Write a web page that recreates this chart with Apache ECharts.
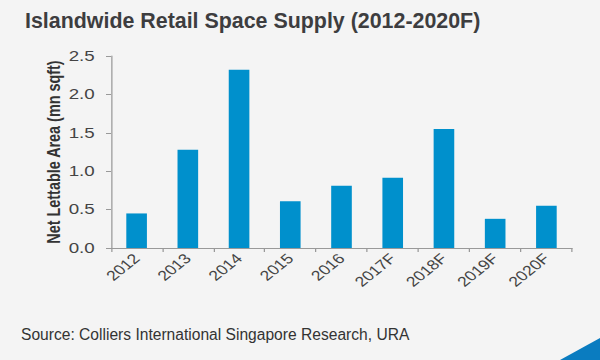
<!DOCTYPE html>
<html><head><meta charset="utf-8">
<script src="https://cdn.jsdelivr.net/npm/echarts@6/dist/echarts.min.js"></script>
<style>
html,body{margin:0;padding:0;background:#f4f4f4}
#wrap{position:relative;width:600px;height:360px;overflow:hidden}
#bg{position:absolute;left:0;top:0;width:600px;height:360px}
#c{position:absolute;left:0;top:0;width:480px;height:360px;transform:scaleX(1.25);transform-origin:0 0}
</style>
</head><body><div id="wrap"><div id="bg"></div><div id="c"></div></div>
<script>
var categories = ['2012','2013','2014','2015','2016','2017F','2018F','2019F','2020F'];
var supply = [0.45, 1.28, 2.32, 0.61, 0.81, 0.915, 1.55, 0.38, 0.55];
var yTicks = {min: 0, max: 2.5, interval: 0.5};

var FONT = 'Liberation Sans, Arial, sans-serif';

var bg = echarts.init(document.getElementById('bg'), null, {renderer: 'svg'});
bg.setOption({
  backgroundColor: '#f4f4f4',
  animation: false,
  title: {
    text: 'Islandwide Retail Space Supply (2012-2020F)',
    left: 20, top: 5,
    textStyle: {fontSize: 21.4, fontWeight: 'bold', color: '#3d3d3f', fontFamily: FONT}
  },
  graphic: [
    {type: 'text', left: 21, top: 326, style: {text: 'Source: Colliers International Singapore Research, URA', fontSize: 15.6, fill: '#333', fontFamily: FONT}},
    {type: 'polygon', shape: {points: [[560,360],[600,338],[600,360]]}, style: {fill: '#0a7cc0'}}
  ]
});

var chart = echarts.init(document.getElementById('c'), null, {renderer: 'svg'});
chart.setOption({
  backgroundColor: 'transparent',
  animation: false,
  textStyle: {fontFamily: FONT},
  grid: {left: 88.8, right: 22.4, top: 56, bottom: 112},
  xAxis: {
    type: 'category',
    data: categories,
    axisLine: {lineStyle: {color: '#999'}},
    axisTick: {show: true, length: 4, lineStyle: {color: '#999'}},
    axisLabel: {rotate: 45, fontSize: 14, color: '#444', margin: 8, fontFamily: FONT}
  },
  yAxis: {
    type: 'value',
    min: yTicks.min, max: yTicks.max, interval: yTicks.interval,
    name: 'Net Lettable Area (mn sqft)',
    nameLocation: 'middle', nameGap: 39, nameRotate: 90,
    nameMoveOverlap: false,
    nameTextStyle: {fontSize: 14.4, fontWeight: 'bold', color: '#333', fontFamily: FONT},
    axisLine: {show: true, lineStyle: {color: '#999'}},
    axisTick: {show: true, length: 4, lineStyle: {color: '#999'}},
    splitLine: {show: false},
    axisLabel: {fontSize: 15, color: '#444', margin: 13, fontFamily: FONT, formatter: function(v){return v.toFixed(1);}}
  },
  series: [{
    type: 'bar',
    data: supply,
    barWidth: 16.5,
    itemStyle: {color: '#0090cc'}
  }]
});
</script></body></html>
